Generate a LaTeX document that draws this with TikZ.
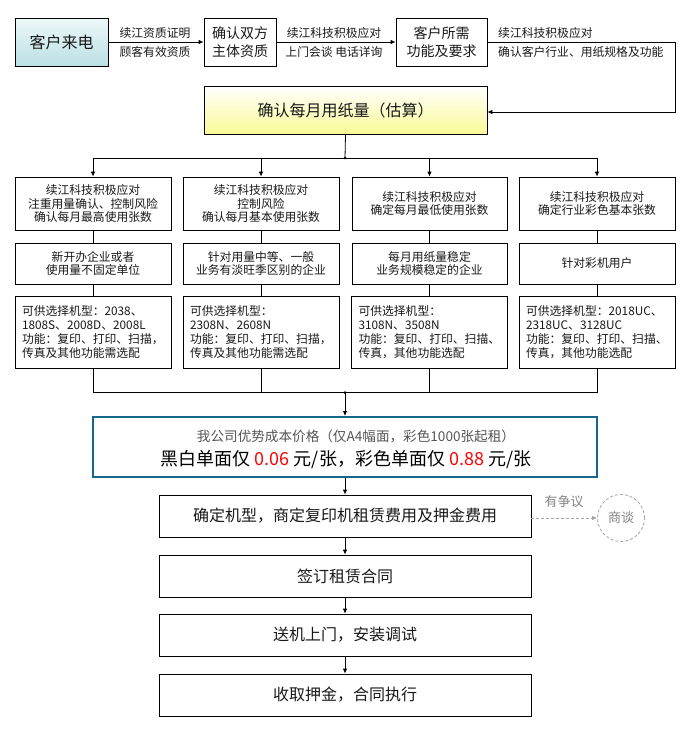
\documentclass[tikz,border=0pt]{standalone}
\usepackage{fontspec}
\setmainfont{Noto Sans CJK SC}
\usetikzlibrary{arrows.meta}
\definecolor{pricebd}{RGB}{22,102,142}
\definecolor{cyantop}{RGB}{238,248,249}
\definecolor{cyanbot}{RGB}{186,223,228}
\definecolor{yelbot}{RGB}{250,250,150}
\definecolor{graytxt}{RGB}{85,85,85}
\definecolor{dashgray}{RGB}{165,165,165}
\definecolor{boxtxt}{RGB}{25,25,25}
\tikzset{
  geom/.style n args={4}{minimum width={(#3-#1)*1pt}, minimum height={(#4-#2)*1pt}, at={({(#1+#3)/2},{(#2+#4)/2})}},
  bx/.style={draw=black, line width=0.8pt, rectangle, align=center, inner sep=0pt, text=boxtxt, font=\fontsize{11.8}{13.8}\selectfont},
  lefttxt/.style={align=left, text width=142pt, inner xsep=7pt},
  lbl/.style={inner sep=0pt, text=boxtxt, font=\fontsize{11.8}{13.8}\selectfont},
  ln/.style={line width=0.8pt},
  arr/.style={line width=0.8pt, -{Latex[length=5pt,width=4.5pt]}},
  big/.style={font=\fontsize{16}{19}\selectfont},
  mid/.style={font=\fontsize{14}{18}\selectfont},
  jdot/.style={circle, fill=black, inner sep=0pt, minimum size=3pt},
}
\begin{document}
\begin{tikzpicture}[x=1pt,y=-1pt]
\fill[white] (0,0) rectangle (688,736);
\useasboundingbox (0,0) rectangle (688,736);

% top row
\node[bx, big, geom={15}{18}{108}{66}, top color=cyantop, bottom color=cyanbot] (b1) {客户来电};
\node[bx, mid, geom={204}{18}{276}{66}] (b2) {确认双方\\主体资质};
\node[bx, mid, geom={396}{18}{487}{66}] (b3) {客户所需\\功能及要求};
\node[bx, big, geom={204}{86}{487}{134}, top color=white, bottom color=yelbot] (b4) {确认每月用纸量（估算）};

\draw[arr] (b1) -- (b2);
\draw[arr] (b2) -- (b3);
\draw[arr] (b3.east) -- ++(188,0) |- ([yshift=-2pt]b4.east);

\node[lbl] (l1a) at (155,33) {续江资质证明};
\node[lbl] (l1b) at (155,52) {顾客有效资质};
\node[lbl] (l2a) at (334,33) {续江科技积极应对};
\node[lbl] (l2b) at (334,52) {上门会谈 电话详询};
\node[lbl, anchor=west] (l3a) at (498,33) {续江科技积极应对};
\node[lbl, anchor=west] (l3b) at (498,52) {确认客户行业、用纸规格及功能};

% row A
\node[bx, geom={15}{177}{171}{230}] (a1) {续江科技积极应对\\注重用量确认、控制风险\\确认每月最高使用张数};
\node[bx, geom={183}{177}{339}{230}] (a2) {续江科技积极应对\\控制风险\\确认每月基本使用张数};
\node[bx, geom={352}{177}{507}{230}] (a3) {续江科技积极应对\\确定每月最低使用张数};
\node[bx, geom={519}{177}{675}{230}] (a4) {续江科技积极应对\\确定行业彩色基本张数};

% row B
\node[bx, geom={15}{243}{171}{284}] (m1) {新开办企业或者\\使用量不固定单位};
\node[bx, geom={183}{243}{339}{284}] (m2) {针对用量中等、一般\\业务有淡旺季区别的企业};
\node[bx, geom={352}{243}{507}{284}] (m3) {每月用纸量稳定\\业务规模稳定的企业};
\node[bx, geom={519}{243}{675}{284}] (m4) {针对彩机用户};

% row C
\node[bx, lefttxt, geom={15}{296}{171}{368}] (c1) {可供选择机型：2038、\\1808S、2008D、2008L\\功能：复印、打印、扫描，\\传真及其他功能需选配};
\node[bx, lefttxt, geom={183}{296}{339}{368}] (c2) {可供选择机型：\\2308N、2608N\\功能：复印、打印、扫描，\\传真及其他功能需选配};
\node[bx, lefttxt, geom={352}{296}{507}{368}] (c3) {可供选择机型：\\3108N、3508N\\功能：复印、打印、扫描、\\传真，其他功能选配};
\node[bx, lefttxt, geom={519}{296}{675}{368}] (c4) {可供选择机型：2018UC、\\2318UC、3128UC\\功能：复印、打印、扫描、\\传真，其他功能选配};

% split
\coordinate (j1) at (345,158);
\draw[ln] (b4.south) -- (j1);
\node[jdot] (j1d) at (j1) {};
\foreach \n in {a1,a2,a3,a4}{\draw[arr] (j1) -| (\n.north);}
\foreach \i in {1,2,3,4}{\draw[ln] (a\i) -- (m\i); \draw[ln] (m\i) -- (c\i);}

% merge
\coordinate (j2) at (345,392.5);
\foreach \n in {c1,c2,c3,c4}{\draw[ln] (\n.south) |- (j2);}
\node[jdot] (j2d) at (j2) {};

% price box
\node[draw=pricebd, line width=2pt, rectangle, inner sep=0pt, geom={93}{417}{597}{477}] (price) {};
\node[inner sep=0pt, text=graytxt, font=\fontsize{13.6}{16}\selectfont] (pt1) at (356,436) {我公司优势成本价格（仅A4幅面，彩色1000张起租）};
\node[inner sep=0pt, text=black, font=\fontsize{18}{22}\selectfont] (pt2) at (346,459.5) {黑白单面仅 {\color{red}0.06} 元/张，彩色单面仅 {\color{red}0.88} 元/张};
\draw[arr] (j2) -- (price.north);

% bottom chain
\node[bx, big, geom={159}{495}{531}{537}] (d1) {确定机型，商定复印机租赁费用及押金费用};
\node[bx, big, geom={159}{555}{531}{597}] (d2) {签订租赁合同};
\node[bx, big, geom={159}{614}{531}{656}] (d3) {送机上门，安装调试};
\node[bx, big, geom={159}{674}{531}{716}] (d4) {收取押金，合同执行};
\draw[arr] (price.south) -- (d1.north);
\draw[arr] (d1) -- (d2);
\draw[arr] (d2) -- (d3);
\draw[arr] (d3) -- (d4);

% dispute branch
\node[circle, draw=dashgray, dashed, line width=0.8pt, dash pattern=on 3pt off 2pt, minimum size=47pt, inner sep=0pt, text=dashgray!80!black, font=\fontsize{13}{15}\selectfont] (talk) at (621,518) {商谈};
\draw[line width=0.8pt, draw=dashgray, dash pattern=on 3pt off 2pt, -{Latex[length=5pt,width=4.5pt]}] (d1.east |- talk) -- (talk.west);
\node[inner sep=0pt, text=dashgray!80!black, font=\fontsize{13}{15}\selectfont] (dispute) at (564,502) {有争议};
\end{tikzpicture}
\end{document}
